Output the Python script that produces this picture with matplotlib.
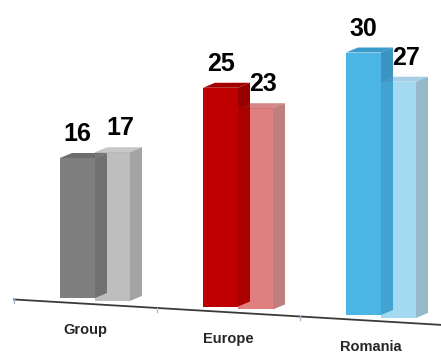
import matplotlib.pyplot as plt
from matplotlib.patches import Polygon

categories = ['Group', 'Europe', 'Romania']
series_a = [16, 25, 30]
series_b = [17, 23, 27]

front_a = ['#7f7f7f', '#c00000', '#4bb5e6']
side_a = ['#646464', '#960000', '#3c94c2']
top_a = ['#6c6c6c', '#a20000', '#3a9acb']
# second series is drawn half transparent over the first
side_b = ['#4b4b4b', '#810101', '#2d7399']
top_b = ['#919191', '#b01010', '#4aa0d0']

PX = 8.75          # pixels per unit
W = 35             # front face width
DX, DY = 12, 5 / PX  # depth offset
STEP = 143
FONT = 'Liberation Sans'


def floor_y(x):
    return -0.0068 * (x - 60)


def box(ax, x0, base, h, front, side, top, alpha=1.0, z=2):
    t = base + h
    faces = [
        ([(x0, base), (x0 + W, base), (x0 + W, t), (x0, t)], front),
        ([(x0 + W, base), (x0 + W + DX, base + DY), (x0 + W + DX, t + DY), (x0 + W, t)], side),
        ([(x0, t), (x0 + W, t), (x0 + W + DX, t + DY), (x0 + DX, t + DY)], top),
    ]
    for pts, c in faces:
        ax.add_patch(Polygon(pts, closed=True, facecolor=c, edgecolor='none',
                             alpha=alpha, zorder=z))


fig = plt.figure(figsize=(4.41, 3.56), dpi=100)
ax = fig.add_axes([0, 0, 1, 1])
ax.set_xlim(0, 441)
ax.set_ylim(-58 / PX, 298 / PX)
ax.axis('off')

# floor line with small ticks
xs = [14, 441]
ax.plot(xs, [floor_y(x) - 0.48 for x in xs], color='#3a3a3a', lw=1.3, zorder=1)
for k in range(4):
    xt = 14 + STEP * k
    yt = floor_y(xt) - 0.48
    ax.plot([xt, xt], [yt, yt - 0.45], color='#a9bccf', lw=1, zorder=1)

for i, cat in enumerate(categories):
    x0 = 60 + STEP * i
    base = floor_y(x0)
    box(ax, x0, base, series_a[i], front_a[i], side_a[i], top_a[i], z=2)
    xb = x0 + W
    base_b = floor_y(xb) - 0.1
    box(ax, xb, base_b, series_b[i], front_a[i], side_b[i], top_b[i], alpha=0.5, z=3)

    ax.text(x0 + W / 2, base + series_a[i] + 24 / PX, str(series_a[i]),
            ha='center', va='center', fontsize=18, weight='bold',
            fontfamily=FONT, color='black', zorder=5)
    ax.text(xb + W / 2 + 8, base_b + series_b[i] + 24 / PX, str(series_b[i]),
            ha='center', va='center', fontsize=18, weight='bold',
            fontfamily=FONT, color='black', zorder=5)

    xc = x0 + 25
    ax.text(xc, floor_y(xc) - 0.48 - 26.5 / PX, cat, ha='center', va='center',
            fontsize=10.5, weight='bold', fontfamily=FONT, color='#262626', zorder=5)

fig.savefig('out.png', dpi=100)
